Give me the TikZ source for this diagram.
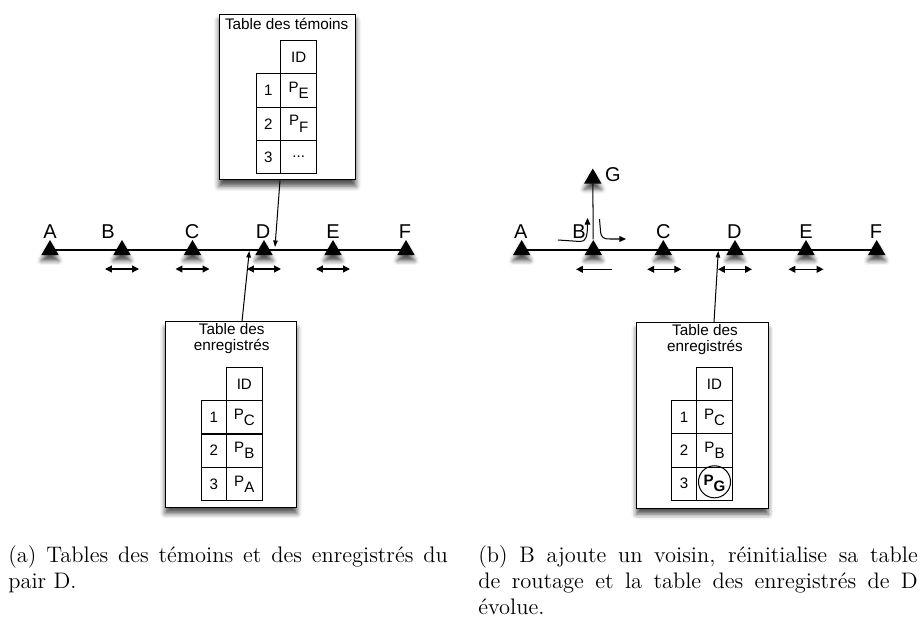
\documentclass[tikz,border=0pt]{standalone}
\usepackage{fontspec}
\newfontfamily\helvfont{Liberation Sans}
\usepackage{tikz}
\usetikzlibrary{arrows.meta,positioning,shapes.geometric,shadows.blur,calc}
\newcommand{\peerid}[1]{P\raisebox{-3pt}{#1}}

\begin{document}
\begin{tikzpicture}[x=0.49pt,y=-0.49pt,
    peer/.style={regular polygon, regular polygon sides=3, fill=black, inner sep=0pt, minimum size=9.8pt,
        blur shadow={shadow xshift=0pt, shadow yshift=-2.8pt, shadow blur radius=2.2pt, shadow opacity=70}},
    peerlabel/.style={font=\helvfont\fontsize{9.8}{11}\selectfont, inner sep=0pt},
    tablebox/.style={draw, fill=white, line width=0.5pt, inner sep=0pt, minimum width=64.5pt, minimum height=90.8pt,
        blur shadow={shadow xshift=0pt, shadow yshift=-3pt, shadow blur radius=2.5pt, shadow opacity=70}},
    boxtitle/.style={font=\helvfont\fontsize{7.5}{8}\selectfont, align=center, inner sep=0pt},
    idcell/.style={draw, line width=0.5pt, minimum width=17.9pt, minimum height=16.3pt, inner sep=0pt, outer sep=0pt,
        font=\helvfont\fontsize{7.4}{8}\selectfont},
    numcell/.style={idcell, minimum width=11.9pt},
    move/.style={{Triangle[length=3.4pt,width=3.4pt]}-{Triangle[length=3.4pt,width=3.4pt]}, line width=0.6pt},
    moveleft/.style={-{Triangle[length=3.4pt,width=3.4pt]}, line width=0.6pt},
    turn/.style={-{Triangle[length=3.2pt,width=2.8pt]}, line width=0.5pt},
    pointer/.style={-{Triangle[length=3.2pt,width=2.2pt]}, line width=0.5pt},
    caption/.style={text width=215.3pt, align=justify, inner sep=0pt, anchor=north west,
        font=\fontsize{11}{12.8}\selectfont}]
\useasboundingbox (0,0) rectangle (920,619);

% ---------- (a) left network
\node[peer] (la) at (50,250) {};
\node[peer] (lb) at (122,250) {};
\node[peer] (lc) at (192.5,250) {};
\node[peer] (ld) at (264,250) {};
\node[peer] (le) at (333,250) {};
\node[peer] (lf) at (406,250) {};
\draw[line width=0.5pt] (la.center) -- (lf.center);

\node[peerlabel] (lla) at (50,231.5) {A};
\node[peerlabel] (llb) at (108,231.5) {B};
\node[peerlabel] (llc) at (192,231.5) {C};
\node[peerlabel] (lld) at (263,231.5) {D};
\node[peerlabel] (lle) at (333,231.5) {E};
\node[peerlabel] (llf) at (405,231.5) {F};

\draw[move] ($(lb)+(-17,19)$) -- ($(lb)+(17,19)$);
\draw[move] ($(lc)+(-17,19)$) -- ($(lc)+(17,19)$);
\draw[move] ($(ld)+(-17,19)$) -- ($(ld)+(17,19)$);
\draw[move] ($(le)+(-17,19)$) -- ($(le)+(17,19)$);

% table des temoins
\node[tablebox, minimum width=67.1pt, minimum height=81.3pt] (wbox) at (287.5,97) {};
\node[boxtitle] (wtitle) at (286.7,24.3) {Table des témoins};
\node[idcell] (wid) at (298.7,57.3) {ID};
\node[idcell, below=0pt of wid] (w1) {\peerid{E}};
\node[idcell, below=0pt of w1] (w2) {\peerid{F}};
\node[idcell, below=0pt of w2] (w3) {...};
\node[numcell, left=0pt of w1] (wn1) {1};
\node[numcell, left=0pt of w2] (wn2) {2};
\node[numcell, left=0pt of w3] (wn3) {3};

% table des enregistres
\node[tablebox] (ebox) at (231,414.6) {};
\node[boxtitle] (etitle) at (231.7,338.7) {Table des\\enregistrés};
\node[idcell] (eid) at (244.3,384.1) {ID};
\node[idcell, below=0pt of eid] (e1) {\peerid{C}};
\node[idcell, below=0pt of e1] (e2) {\peerid{B}};
\node[idcell, below=0pt of e2] (e3) {\peerid{A}};
\node[numcell, left=0pt of e1] (en1) {1};
\node[numcell, left=0pt of e2] (en2) {2};
\node[numcell, left=0pt of e3] (en3) {3};

\coordinate (wtip) at (275,247);
\coordinate (etip) at (249.3,251);
\draw[pointer] ($(wbox.south)+(-7.5,0)$) -- (wtip);
\draw[pointer] ($(ebox.north)+(11,0)$) -- (etip);

% ---------- (b) right network
\node[peer] (ra) at (521.7,250) {};
\node[peer] (rb) at (593.3,250) {};
\node[peer] (rc) at (663.3,250) {};
\node[peer] (rd) at (735,250) {};
\node[peer] (re) at (806,250) {};
\node[peer] (rf) at (876.7,250) {};
\node[peer] (rg) at (592.8,178.5) {};
\draw[line width=0.5pt] (ra.center) -- (rf.center);
\draw[line width=0.5pt] (rb) -- (rg);

\node[peerlabel] (rla) at (520.7,231.5) {A};
\node[peerlabel] (rlb) at (579,231.5) {B};
\node[peerlabel] (rlc) at (663.3,231.5) {C};
\node[peerlabel] (rld) at (734.3,231.5) {D};
\node[peerlabel] (rle) at (806,231.5) {E};
\node[peerlabel] (rlf) at (876,231.5) {F};
\node[peerlabel] (rlg) at (613,175) {G};

\draw[moveleft] ($(rb)+(18.4,19.3)$) -- ($(rb)+(-17.3,19.3)$);
\draw[move] ($(rc)+(-16,19.3)$) -- ($(rc)+(18,19.3)$);
\draw[move] ($(rd)+(-17,19.3)$) -- ($(rd)+(17,19.3)$);
\draw[move] ($(re)+(-17.5,19.3)$) -- ($(re)+(17.5,19.3)$);

% B re-routes towards G
\draw[turn] (558,240) -- (580,241.5) .. controls (586,242) and (587.5,236) .. (587.5,218);
\draw[turn] (599.5,219) -- (600.5,231) .. controls (601,238) and (604,239) .. (610,239) -- (626,239);

% table des enregistres (evolue)
\node[tablebox] (rbox) at (702.3,415.4) {};
\node[boxtitle] (rtitle) at (705,339.7) {Table des\\enregistrés};
\node[idcell] (rid) at (714.5,384) {ID};
\node[idcell, below=0pt of rid] (r1) {\peerid{C}};
\node[idcell, below=0pt of r1] (r2) {\peerid{B}};
\node[idcell, below=0pt of r2] (r3) {\bfseries\peerid{G}};
\node[numcell, left=0pt of r1] (rn1) {1};
\node[numcell, left=0pt of r2] (rn2) {2};
\node[numcell, left=0pt of r3] (rn3) {3};
\node[draw, circle, line width=0.5pt, minimum size=15.7pt, inner sep=0pt] (rring) at ($(r3)+(0,-2)$) {};

\coordinate (rtip) at (718.3,251);
\draw[pointer] ($(rbox.north)+(11.7,0)$) -- (rtip);

% ---------- captions
\node[caption] (capa) at (8,545) {(a) Tables des témoins et des enregistrés du\linebreak pair D.};
\node[caption] (capb) at (478,545) {(b) B ajoute un voisin, réinitialise sa table\linebreak de routage et la table des enregistrés de D\linebreak évolue.};
\end{tikzpicture}
\end{document}
